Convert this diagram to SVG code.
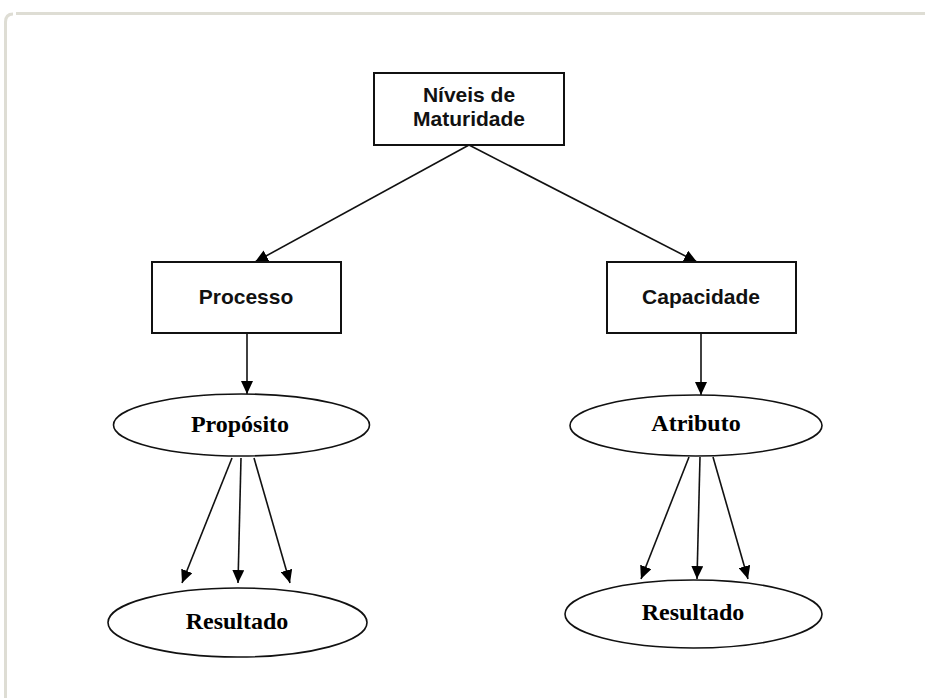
<svg xmlns="http://www.w3.org/2000/svg" width="925" height="698" viewBox="0 0 925 698">
<style>
.box{fill:#fff;stroke:#111;stroke-width:2}
.ell{fill:#fff;stroke:#111;stroke-width:1.6}
.sans{font-family:"Liberation Sans",Arial,sans-serif;font-weight:bold;font-size:21px;fill:#111;text-anchor:middle}
.serif{font-family:"Liberation Serif","Times New Roman",serif;font-weight:bold;font-size:24px;fill:#000;text-anchor:middle}
.edge{stroke:#111;stroke-width:1.6;fill:none;marker-end:url(#ah)}
</style>
<defs>
<marker id="ah" markerUnits="userSpaceOnUse" markerWidth="14" markerHeight="12" refX="13" refY="6" orient="auto">
<path d="M0,0 L13,6 L0,12 Z" fill="#000"/>
</marker>
</defs>
<rect x="0" y="0" width="925" height="698" fill="#fff"/>
<g id="frame" fill="none" stroke="#deddd4" stroke-width="3">
<path d="M5.5,698 V22 Q5.5,14 13,14"/>
<path d="M16,13.5 H925"/>
</g>
<g id="connectors">
<line class="edge" x1="469" y1="145" x2="255" y2="262"/>
<line class="edge" x1="469" y1="145" x2="697" y2="262"/>
<line class="edge" x1="247" y1="333" x2="247" y2="394"/>
<line class="edge" x1="701" y1="333" x2="701" y2="395"/>
<line class="edge" x1="232" y1="458" x2="182" y2="583"/>
<line class="edge" x1="241" y1="458" x2="238" y2="583"/>
<line class="edge" x1="254" y1="458" x2="290" y2="583"/>
<line class="edge" x1="689" y1="457" x2="641" y2="579"/>
<line class="edge" x1="700" y1="457" x2="697" y2="579"/>
<line class="edge" x1="713" y1="457" x2="748" y2="579"/>
</g>
<g id="niveis">
<rect class="box" x="374" y="73" width="190" height="72"/>
<text class="sans" x="469" y="102">Níveis de</text>
<text class="sans" x="469" y="126">Maturidade</text>
</g>
<g id="processo">
<rect class="box" x="152" y="262" width="189" height="71"/>
<text class="sans" x="246" y="304">Processo</text>
</g>
<g id="capacidade">
<rect class="box" x="607" y="262" width="189" height="71"/>
<text class="sans" x="701" y="304">Capacidade</text>
</g>
<g id="proposito">
<ellipse class="ell" cx="241.5" cy="425" rx="128" ry="31"/>
<text class="serif" x="240" y="432">Propósito</text>
</g>
<g id="atributo">
<ellipse class="ell" cx="696" cy="425.5" rx="126" ry="30.5"/>
<text class="serif" x="696" y="431">Atributo</text>
</g>
<g id="resultado1">
<ellipse class="ell" cx="237.5" cy="622.5" rx="129.5" ry="34.5"/>
<text class="serif" x="237" y="629">Resultado</text>
</g>
<g id="resultado2">
<ellipse class="ell" cx="693.5" cy="614" rx="128.5" ry="34"/>
<text class="serif" x="693" y="620">Resultado</text>
</g>
</svg>
